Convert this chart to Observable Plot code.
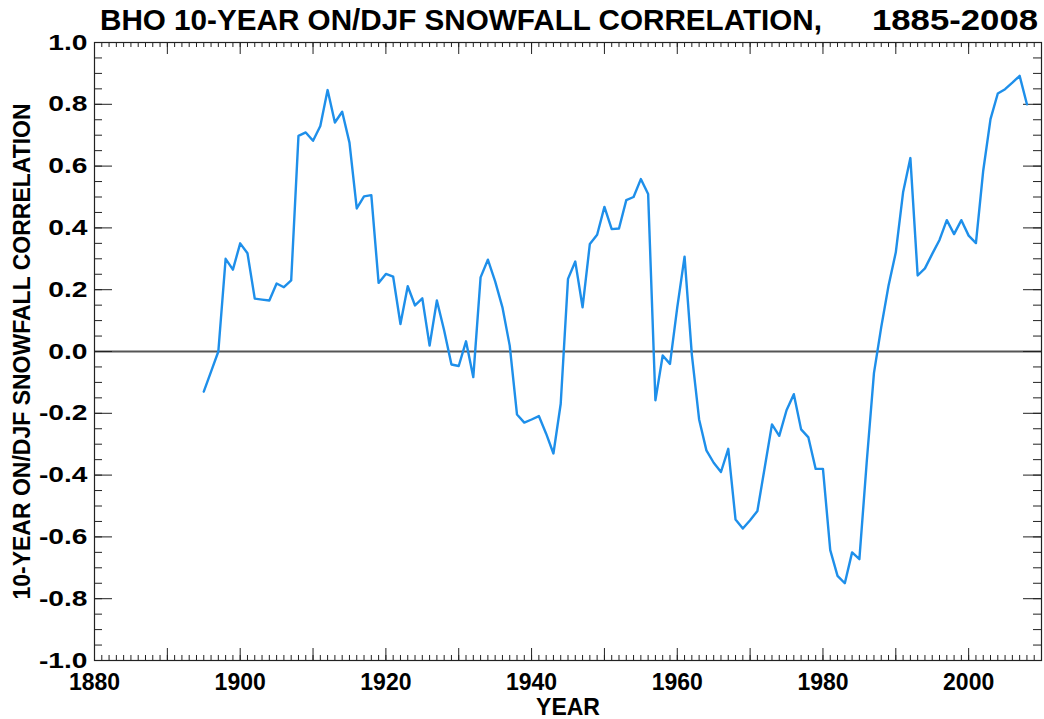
<!DOCTYPE html>
<html><head><meta charset="utf-8">
<script src="https://cdn.jsdelivr.net/npm/d3@7"></script>
<script src="https://cdn.jsdelivr.net/npm/@observablehq/plot@0.6"></script>
<style>
body{margin:0;background:#fff;}
#wrap{position:relative;width:1044px;height:719px;}
#wrap svg{position:absolute;left:0;top:0;}
</style></head><body>
<div id="wrap"></div>
<script>
const years = [1895,1896,1897,1898,1899,1900,1901,1902,1903,1904,1905,1906,1907,1908,1909,1910,1911,1912,1913,1914,1915,1916,1917,1918,1919,1920,1921,1922,1923,1924,1925,1926,1927,1928,1929,1930,1931,1932,1933,1934,1935,1936,1937,1938,1939,1940,1941,1942,1943,1944,1945,1946,1947,1948,1949,1950,1951,1952,1953,1954,1955,1956,1957,1958,1959,1960,1961,1962,1963,1964,1965,1966,1967,1968,1969,1970,1971,1972,1973,1974,1975,1976,1977,1978,1979,1980,1981,1982,1983,1984,1985,1986,1987,1988,1989,1990,1991,1992,1993,1994,1995,1996,1997,1998,1999,2000,2001,2002,2003,2004,2005,2006,2007,2008];
const correlation = [-0.13,-0.065,0.0,0.30,0.265,0.35,0.318,0.171,0.168,0.165,0.22,0.208,0.23,0.698,0.709,0.682,0.73,0.846,0.741,0.776,0.676,0.463,0.502,0.506,0.222,0.251,0.242,0.089,0.211,0.149,0.172,0.019,0.165,0.068,-0.042,-0.047,0.033,-0.083,0.24,0.297,0.227,0.143,0.019,-0.204,-0.23,-0.22,-0.209,-0.266,-0.33,-0.169,0.235,0.291,0.143,0.348,0.378,0.468,0.396,0.398,0.49,0.50,0.558,0.51,-0.158,-0.013,-0.04,0.143,0.307,-0.01,-0.22,-0.32,-0.36,-0.39,-0.315,-0.544,-0.573,-0.546,-0.516,-0.376,-0.236,-0.273,-0.19,-0.138,-0.252,-0.278,-0.38,-0.38,-0.643,-0.726,-0.75,-0.65,-0.672,-0.36,-0.07,0.079,0.213,0.321,0.515,0.626,0.246,0.269,0.316,0.361,0.425,0.38,0.425,0.375,0.351,0.585,0.752,0.835,0.849,0.87,0.892,0.80];
const xTickLabels = [1880,1900,1920,1940,1960,1980,2000];
const yTickLabels = [-1.0,-0.8,-0.6,-0.4,-0.2,0.0,0.2,0.4,0.6,0.8,1.0];
const titleText = "BHO 10-YEAR ON/DJF SNOWFALL CORRELATION,";
const titleYears = "1885-2008";
const xLabel = "YEAR";
const yLabel = "10-YEAR ON/DJF SNOWFALL CORRELATION";

const W = 1044, H = 719, mL = 94, mR = 3, mT = 42, mB = 59;
const xDom = [1880, 2010], yDom = [-1, 1];
const pxX = (W - mL - mR) / (xDom[1] - xDom[0]);
const pxY = (H - mT - mB) / (yDom[1] - yDom[0]);
const font = "Liberation Sans, Arial, Helvetica, sans-serif";

const data = years.map((y, i) => ({year: y, value: correlation[i]}));
const minorYears = d3.range(xDom[0], xDom[1] + 1, 1);
const decadeYears = d3.range(xDom[0], xDom[1] + 1, 10);
const minorY = d3.range(-20, 21).map(k => k * 0.05);

const tick = {stroke: "#222", strokeWidth: 1};
const chart = Plot.plot({
  width: W, height: H,
  marginLeft: mL, marginRight: mR, marginTop: mT, marginBottom: mB,
  x: {domain: xDom, axis: null},
  y: {domain: yDom, axis: null},
  style: {background: "#fff", fontFamily: font},
  marks: [
    Plot.ruleY([0], {stroke: "#555", strokeWidth: 2}),
    Plot.ruleX(minorYears, {x: d => d, y1: -1, y2: -1 + 5 / pxY, ...tick}),
    Plot.ruleX(decadeYears, {x: d => d, y1: -1, y2: -1 + 12 / pxY, ...tick}),
    Plot.ruleX(minorYears, {x: d => d, y1: 1, y2: 1 - 5 / pxY, ...tick}),
    Plot.ruleX(decadeYears, {x: d => d, y1: 1, y2: 1 - 12 / pxY, ...tick}),
    Plot.ruleY(minorY, {y: d => d, x1: xDom[0], x2: xDom[0] + 8 / pxX, ...tick}),
    Plot.ruleY(yTickLabels, {y: d => d, x1: xDom[0], x2: xDom[0] + 18 / pxX, ...tick}),
    Plot.ruleY(minorY, {y: d => d, x1: xDom[1], x2: xDom[1] - 8 / pxX, ...tick}),
    Plot.ruleY(yTickLabels, {y: d => d, x1: xDom[1], x2: xDom[1] - 18 / pxX, ...tick}),
    Plot.line(data, {x: "year", y: "value", stroke: "#1e8fea", strokeWidth: 2.4}),
    Plot.frame({stroke: "#222", strokeWidth: 1.2}),
    Plot.text(yTickLabels, {x: xDom[0], y: d => d, text: d => d.toFixed(1), textAnchor: "end", dx: -7, fontSize: 22, fontWeight: "bold", fill: "#000"}),
    Plot.text(xTickLabels, {x: d => d, y: yDom[0], text: d => String(d), dy: 22, fontSize: 23, fontWeight: "bold", fill: "#000"}),
    Plot.text([xLabel], {frameAnchor: "bottom", lineAnchor: "middle", dy: 47, fontSize: 23, fontWeight: "bold", fill: "#000"}),
    Plot.text([yLabel], {frameAnchor: "left", textAnchor: "middle", lineAnchor: "middle", rotate: -90, dx: -72, fontSize: 23, fontWeight: "bold", fill: "#000"})
  ]
});
document.getElementById("wrap").appendChild(chart);

// widen y tick labels to match the reference's broader glyphs
const textGroups = chart.querySelectorAll('g[aria-label="text"]');
if (textGroups.length) {
  textGroups[0].querySelectorAll("text").forEach(t => {
    const w = t.getComputedTextLength();
    t.setAttribute("textLength", (w * 1.28).toFixed(1));
    t.setAttribute("lengthAdjust", "spacingAndGlyphs");
  });
}

// Title overlay above the plot area
const ns = "http://www.w3.org/2000/svg";
const tsvg = document.createElementNS(ns, "svg");
tsvg.setAttribute("width", W); tsvg.setAttribute("height", 40);
tsvg.style.zIndex = 2;
function addText(str, x, len) {
  const t = document.createElementNS(ns, "text");
  t.setAttribute("x", x); t.setAttribute("y", 30);
  t.setAttribute("font-family", font);
  t.setAttribute("font-size", 29);
  t.setAttribute("font-weight", "bold");
  t.setAttribute("textLength", len);
  t.setAttribute("lengthAdjust", "spacingAndGlyphs");
  t.textContent = str;
  tsvg.appendChild(t);
}
addText(titleText, 100, 722);
addText(titleYears, 872, 166);
document.getElementById("wrap").appendChild(tsvg);
</script>
</body></html>
